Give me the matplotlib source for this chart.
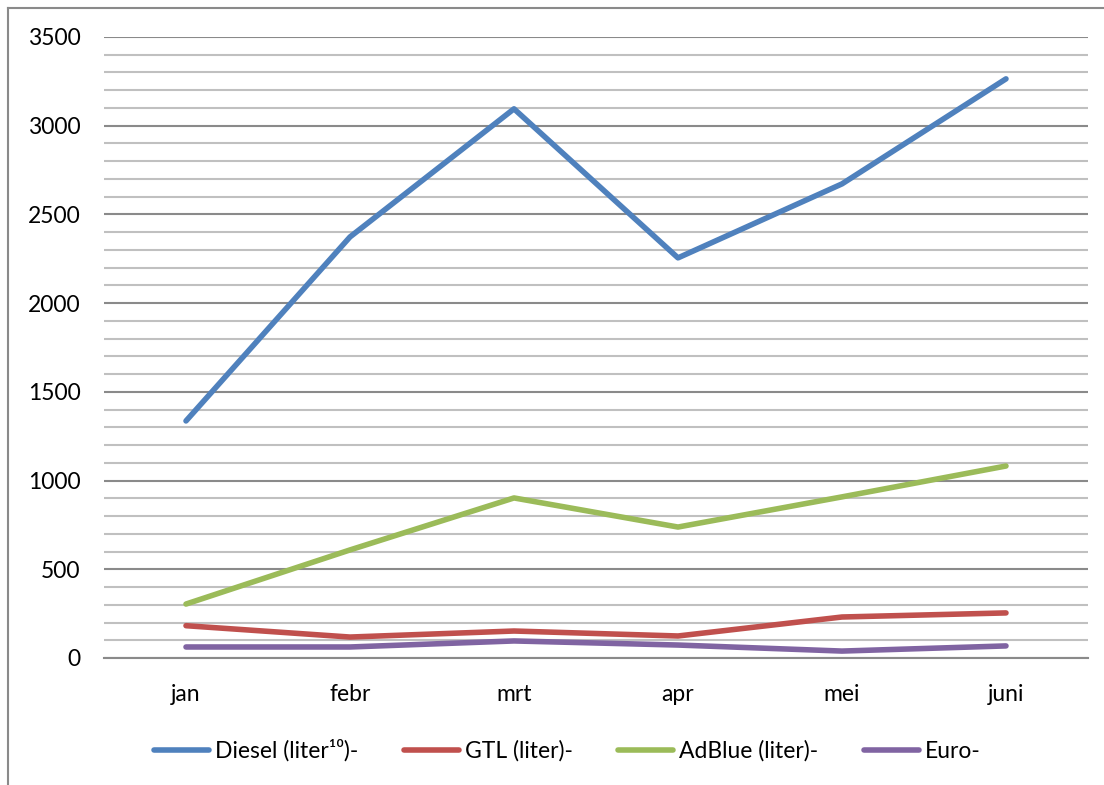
import matplotlib
matplotlib.use("Agg")
import matplotlib.pyplot as plt
from matplotlib.lines import Line2D

months = ["jan", "febr", "mrt", "apr", "mei", "juni"]
diesel = [1336, 2373, 3095, 2255, 2672, 3264]
gtl = [182, 118, 152, 124, 231, 254]
adblue = [304, 609, 902, 738, 908, 1082]
euro = [62, 62, 96, 73, 39, 68]
labels = ["Diesel (liter¹⁰)-", "GTL (liter)-", "AdBlue (liter)-", "Euro-"]
colors = ["#4F81BD", "#C0504D", "#9BBB59", "#8064A2"]

plt.rcParams['font.family'] = ['Lato', 'DejaVu Sans']

fig = plt.figure(figsize=(11.04, 7.85), dpi=100)
ax = fig.add_axes([0.0942, 0.1618, 0.8913, 0.7911])

x = list(range(len(months)))
for vals, c, lab in zip([diesel, gtl, adblue, euro], colors, labels):
    ax.plot(x, vals, color=c, lw=4, solid_capstyle='round', label=lab, zorder=3)

ax.set_xlim(-0.5, 5.5)
ax.set_ylim(0, 3500)
ax.set_xticks(x)
ax.set_xticklabels(months)
ax.set_yticks(range(0, 3501, 500))
ax.set_yticks(range(0, 3501, 100), minor=True)
ax.grid(axis='y', which='minor', color='#c0c0c0', lw=1.5, zorder=0)
ax.grid(axis='y', which='major', color='#8a8a8a', lw=1.5, zorder=1)
ax.tick_params(axis='both', which='both', length=0, labelsize=16.5)
ax.tick_params(axis='y', pad=17)
ax.tick_params(axis='x', pad=19)
for side in ['top', 'right', 'left']:
    ax.spines[side].set_visible(False)
ax.spines['bottom'].set_color('#8a8a8a')
ax.spines['bottom'].set_linewidth(1.5)

handles = [Line2D([0], [0], color=c, lw=4, solid_capstyle='round') for c in colors]
fig.legend(handles, labels, loc='center', bbox_to_anchor=(0.514, 0.044), ncol=4,
           frameon=False, fontsize=16.5, handlelength=2.4, handletextpad=0.25,
           columnspacing=2.0)

# chart border (left and top edges)
fig.add_artist(Line2D([0.0072, 0.0072], [0.0, 0.99], color='#8a8a8a', lw=1.5,
                      transform=fig.transFigure))
fig.add_artist(Line2D([0.0072, 1.0], [0.99, 0.99], color='#8a8a8a', lw=1.5,
                      transform=fig.transFigure))

fig.savefig("out.png", dpi=100)
